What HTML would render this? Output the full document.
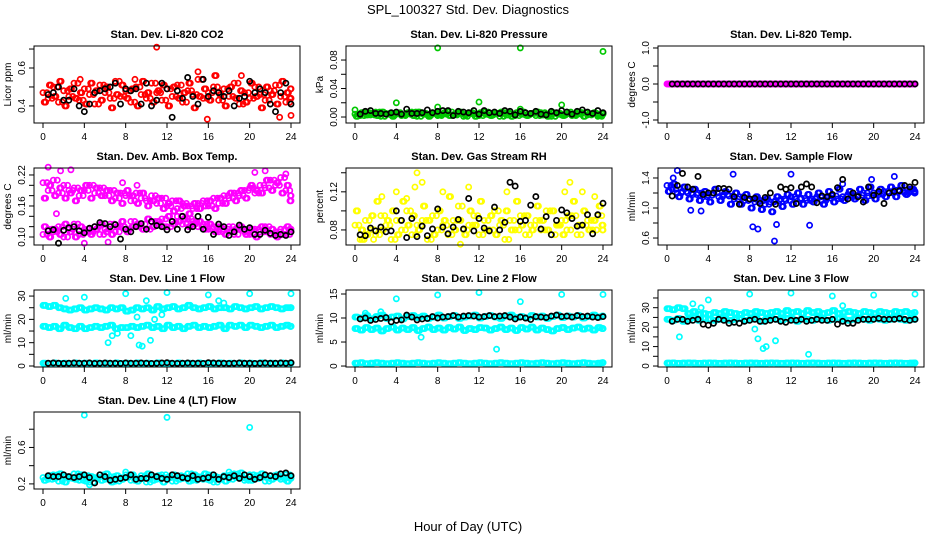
<!DOCTYPE html>
<html><head><meta charset="utf-8">
<style>
body{margin:0;background:#fff;}
svg{display:block;font-family:"Liberation Sans",Arial,sans-serif;}
.t{font-weight:bold;font-size:11px;text-anchor:middle;}
.tk{font-size:10px;}
</style></head>
<body>
<svg id="chart" width="936" height="540" viewBox="0 0 936 540">
<text x="468" y="14" font-size="13" text-anchor="middle">SPL_100327  Std. Dev. Diagnostics</text>
<text x="468" y="531" font-size="13" text-anchor="middle">Hour of Day (UTC)</text>
</svg>
<script>
const hoursA=[0,0.5,1,1.5,2,2.5,3,3.5,4,4.5,5,5.5,6,6.5,7,7.5,8,8.5,9,9.5,10,10.5,11,11.5,12,12.5,13,13.5,14,14.5,15,15.5,16,16.5,17,17.5,18,18.5,19,19.5,20,20.5,21,21.5,22,22.5,23,23.5,24];
const hoursB=[0.25,0.75,1.25,1.75,2.25,2.75,3.25,3.75,4.25,4.75,5.25,5.75,6.25,6.75,7.25,7.75,8.25,8.75,9.25,9.75,10.25,10.75,11.25,11.75,12.25,12.75,13.25,13.75,14.25,14.75,15.25,15.75,16.25,16.75,17.25,17.75,18.25,18.75,19.25,19.75,20.25,20.75,21.25,21.75,22.25,22.75,23.25,23.75,24];
const hoursC=[0.12,0.62,1.12,1.62,2.12,2.62,3.12,3.62,4.12,4.62,5.12,5.62,6.12,6.62,7.12,7.62,8.12,8.62,9.12,9.62,10.12,10.62,11.12,11.62,12.12,12.62,13.12,13.62,14.12,14.62,15.12,15.62,16.12,16.62,17.12,17.62,18.12,18.62,19.12,19.62,20.12,20.62,21.12,21.62,22.12,22.62,23.12,23.62,23.9];
const hoursD=[0.38,0.88,1.38,1.88,2.38,2.88,3.38,3.88,4.38,4.88,5.38,5.88,6.38,6.88,7.38,7.88,8.38,8.88,9.38,9.88,10.38,10.88,11.38,11.88,12.38,12.88,13.38,13.88,14.38,14.88,15.38,15.88,16.38,16.88,17.38,17.88,18.38,18.88,19.38,19.88,20.38,20.88,21.38,21.88,22.38,22.88,23.38,23.88,23.95];
const hoursK=[0.5,1,1.5,2,2.5,3,3.5,4,4.5,5,5.5,6,6.5,7,7.5,8,8.5,9,9.5,10,10.5,11,11.5,12,12.5,13,13.5,14,14.5,15,15.5,16,16.5,17,17.5,18,18.5,19,19.5,20,20.5,21,21.5,22,22.5,23,23.5,24];
const xTicks=[0,4,8,12,16,20,24];

// P1 CO2
const co2A=[0.47,0.44,0.50,0.42,0.48,0.45,0.52,0.43,0.49,0.46,0.41,0.51,0.47,0.44,0.53,0.45,0.48,0.42,0.50,0.46,0.44,0.52,0.47,0.43,0.49,0.45,0.51,0.42,0.48,0.46,0.54,0.44,0.47,0.50,0.43,0.49,0.45,0.52,0.41,0.47,0.44,0.50,0.46,0.43,0.48,0.51,0.45,0.42,0.49];
const co2B=[0.42,0.51,0.45,0.53,0.40,0.49,0.44,0.47,0.41,0.52,0.48,0.43,0.50,0.39,0.46,0.51,0.44,0.49,0.40,0.53,0.47,0.42,0.48,0.51,0.40,0.50,0.44,0.47,0.52,0.39,0.45,0.49,0.43,0.56,0.46,0.40,0.50,0.44,0.48,0.42,0.52,0.45,0.39,0.50,0.46,0.41,0.53,0.47,0.44];
const co2OutH=[11,15,15.9,19.2,22.9,24,3.6,8.9];
const co2OutV=[0.71,0.58,0.33,0.56,0.34,0.35,0.54,0.54];
const co2K=[0.46,0.47,0.50,0.43,0.43,0.49,0.40,0.37,0.41,0.47,0.48,0.49,0.50,0.52,0.41,0.49,0.48,0.49,0.41,0.52,0.40,0.43,0.52,0.49,0.34,0.48,0.44,0.55,0.45,0.41,0.54,0.45,0.48,0.47,0.45,0.48,0.40,0.44,0.45,0.53,0.47,0.49,0.47,0.41,0.37,0.47,0.52,0.41];
// P2 Pressure
const presA=[0.004,0.002,0.006,0.003,0.007,0.001,0.005,0.003,0.006,0.002,0.004,0.007,0.001,0.005,0.003,0.006,0.002,0.004,0.007,0.003,0.005,0.001,0.006,0.004,0.002,0.007,0.003,0.005,0.001,0.006,0.004,0.002,0.007,0.003,0.005,0.002,0.006,0.004,0.001,0.005,0.003,0.007,0.002,0.004,0.006,0.003,0.005,0.001,0.004];
const presB=[0.001,0.006,0.003,0.005,0.002,0.007,0.004,0.001,0.005,0.003,0.006,0.002,0.007,0.004,0.001,0.005,0.003,0.006,0.002,0.004,0.007,0.003,0.005,0.001,0.006,0.004,0.002,0.005,0.007,0.003,0.001,0.006,0.004,0.002,0.005,0.007,0.003,0.001,0.006,0.004,0.002,0.005,0.003,0.007,0.001,0.004,0.006,0.002,0.005];
const presOutH=[0,4,8,8,12,16,16,20,24];
const presOutV=[0.010,0.020,0.097,0.014,0.021,0.097,0.011,0.017,0.092];
const presK=[0.004,0.008,0.009,0.005,0.005,0.004,0.006,0.007,0.004,0.011,0.005,0.005,0.006,0.010,0.006,0.008,0.009,0.009,0.002,0.008,0.007,0.006,0.009,0.004,0.009,0.006,0.007,0.005,0.009,0.008,0.003,0.008,0.006,0.005,0.008,0.004,0.003,0.008,0.006,0.009,0.007,0.004,0.008,0.010,0.007,0.005,0.009,0.006];
// P3 Temp
const tempA=[0,0,0,0,0,0,0,0,0,0,0,0,0,0,0,0,0,0,0,0,0,0,0,0,0,0,0,0,0,0,0,0,0,0,0,0,0,0,0,0,0,0,0,0,0,0,0,0,0];
const tempB=[0,0,0,0,0,0,0,0,0,0,0,0,0,0,0,0,0,0,0,0,0,0,0,0,0,0,0,0,0,0,0,0,0,0,0,0,0,0,0,0,0,0,0,0,0,0,0,0,0];
const tempK=[0,0,0,0,0,0,0,0,0,0,0,0,0,0,0,0,0,0,0,0,0,0,0,0,0,0,0,0,0,0,0,0,0,0,0,0,0,0,0,0,0,0,0,0,0,0,0,0];
// P4 Amb box temp
const ambUA=[0.205,0.19,0.21,0.185,0.20,0.19,0.195,0.18,0.19,0.20,0.185,0.195,0.18,0.19,0.175,0.185,0.18,0.17,0.185,0.175,0.17,0.18,0.165,0.175,0.16,0.17,0.155,0.165,0.16,0.155,0.165,0.17,0.16,0.175,0.165,0.18,0.175,0.185,0.18,0.19,0.195,0.185,0.20,0.195,0.21,0.20,0.215,0.19,0.18];
const ambUB=[0.175,0.20,0.18,0.195,0.175,0.185,0.17,0.19,0.20,0.175,0.195,0.18,0.19,0.17,0.185,0.165,0.19,0.18,0.165,0.185,0.16,0.17,0.175,0.155,0.165,0.15,0.17,0.16,0.145,0.165,0.155,0.16,0.17,0.155,0.175,0.165,0.185,0.17,0.19,0.175,0.20,0.19,0.185,0.21,0.19,0.205,0.185,0.20,0.17];
const ambLA=[0.105,0.115,0.11,0.12,0.10,0.115,0.125,0.105,0.115,0.11,0.12,0.105,0.115,0.125,0.11,0.12,0.115,0.13,0.12,0.125,0.115,0.13,0.125,0.135,0.12,0.13,0.14,0.125,0.135,0.13,0.12,0.125,0.115,0.12,0.11,0.115,0.12,0.105,0.115,0.11,0.105,0.115,0.11,0.12,0.105,0.11,0.115,0.105,0.11];
const ambLB=[0.12,0.10,0.115,0.105,0.125,0.11,0.10,0.12,0.11,0.105,0.115,0.125,0.11,0.105,0.12,0.13,0.11,0.12,0.125,0.115,0.135,0.12,0.13,0.12,0.14,0.125,0.13,0.135,0.12,0.125,0.13,0.115,0.125,0.11,0.12,0.105,0.11,0.115,0.12,0.105,0.115,0.10,0.12,0.11,0.115,0.10,0.105,0.12,0.115];
const ambOutH=[0.5,1.7,2.7,0.4,1.3,7.7,9.1,20.5,21.5,23.5,6.3,4];
const ambOutV=[0.235,0.228,0.23,0.205,0.145,0.205,0.20,0.225,0.228,0.222,0.09,0.088];
const ambK=[0.112,0.114,0.088,0.113,0.118,0.12,0.112,0.108,0.117,0.12,0.128,0.126,0.12,0.124,0.096,0.115,0.11,0.12,0.126,0.115,0.13,0.122,0.12,0.114,0.13,0.115,0.14,0.114,0.12,0.14,0.115,0.138,0.105,0.125,0.12,0.103,0.11,0.123,0.115,0.118,0.105,0.105,0.113,0.107,0.103,0.105,0.103,0.11];
// P5 RH
const rhA=[0.085,0.07,0.09,0.08,0.075,0.095,0.085,0.07,0.09,0.08,0.1,0.075,0.085,0.09,0.07,0.095,0.08,0.085,0.075,0.09,0.105,0.08,0.085,0.095,0.075,0.09,0.08,0.1,0.085,0.07,0.09,0.08,0.095,0.075,0.085,0.09,0.08,0.1,0.075,0.085,0.09,0.08,0.095,0.075,0.085,0.09,0.08,0.095,0.08];
const rhB=[0.1,0.08,0.075,0.095,0.11,0.08,0.09,0.1,0.075,0.11,0.085,0.095,0.08,0.105,0.09,0.075,0.1,0.09,0.115,0.08,0.09,0.075,0.1,0.085,0.11,0.08,0.095,0.075,0.09,0.1,0.08,0.11,0.085,0.095,0.08,0.105,0.09,0.08,0.1,0.085,0.075,0.095,0.11,0.085,0.1,0.08,0.09,0.105,0.085];
const rhOutH=[6,6.5,5.8,10.2,11,4,8.5,20.3,20.8,2.6,1.8,14.7,22,0.7,23.2,5];
const rhOutV=[0.14,0.13,0.125,0.065,0.125,0.12,0.12,0.12,0.13,0.115,0.07,0.12,0.12,0.07,0.115,0.113];
const rhK=[0.075,0.074,0.082,0.079,0.083,0.078,0.079,0.1,0.09,0.072,0.092,0.073,0.084,0.074,0.081,0.102,0.083,0.076,0.083,0.091,0.081,0.113,0.079,0.092,0.082,0.079,0.104,0.08,0.088,0.13,0.126,0.089,0.09,0.106,0.115,0.081,0.094,0.075,0.09,0.101,0.098,0.092,0.084,0.085,0.096,0.076,0.096,0.108];
// P6 Sample flow
const sfA=[1.3,1.25,1.2,1.22,1.2,1.18,1.2,1.15,1.17,1.2,1.15,1.18,1.16,1.12,1.15,1.1,1.12,1.08,1.1,1.05,1.08,1.1,1.12,1.1,1.15,1.12,1.13,1.1,1.12,1.15,1.1,1.13,1.16,1.12,1.15,1.18,1.15,1.17,1.2,1.16,1.2,1.18,1.22,1.2,1.24,1.22,1.2,1.25,1.2];
const sfB=[1.22,1.32,1.15,1.28,1.12,1.25,1.1,1.22,1.08,1.25,1.1,1.22,1.05,1.2,1.05,1.18,1.0,1.15,0.98,1.12,0.95,1.15,1.02,1.18,1.05,1.2,1.05,1.18,1.08,1.2,1.05,1.22,1.08,1.25,1.1,1.22,1.12,1.25,1.1,1.28,1.12,1.25,1.15,1.28,1.15,1.3,1.18,1.25,1.22];
const sfOutH=[1,6.4,8.3,8.8,10.4,10.6,12,13.8,2.3,3.3,17,22,19.8,0.6];
const sfOutV=[1.5,1.45,0.75,0.72,0.56,0.78,1.45,0.77,0.97,0.96,1.32,1.42,1.38,1.4];
const sfK=[1.16,1.3,1.46,1.28,1.25,1.42,1.18,1.2,1.2,1.26,1.26,1.25,1.15,1.05,1.14,1.12,1.13,1.06,1.14,1.2,1.05,1.28,1.25,1.27,1.06,1.28,1.32,1.28,1.07,1.16,1.15,1.18,1.27,1.38,1.12,1.2,1.15,1.08,1.28,1.17,1.22,1.06,1.2,1.22,1.23,1.3,1.28,1.34];
// P7 Line 1
const l1U=[26,25.5,26,25,24.5,24,24.5,25,24,24.5,25,24.5,24,25,24.5,25,23.5,24,25,24.5,25,24,25.5,24.5,25,25.5,24.5,25,26,25,24.5,25,25.5,24.5,25,25,24.5,25.5,25,24.5,25,25.5,24.5,25,25.5,25,24.5,25,25];
const l1M=[17,16.5,17,16,17.5,16.5,16,17,16,16.5,17,16.5,17,17.5,16,16.5,16.5,17,16.5,17,17.5,16.5,17,16,17.5,16.5,17,16,17,17.5,16.5,17,16.5,17,17.5,16,17.5,17,17.5,16.5,17.5,17,16.5,17,17.5,16.5,17,17.5,17];
const l1L=[1.2,1,1.3,1.1,1.2,1,1.3,1.1,1.2,1,1.3,1.1,1.2,1,1.3,1.1,1.2,1,1.3,1.1,1.2,1,1.3,1.1,1.2,1,1.3,1.1,1.2,1,1.3,1.1,1.2,1,1.3,1.1,1.2,1,1.3,1.1,1.2,1,1.3,1.1,1.2,1,1.3,1.1,1.2];
const l1OutH=[2.2,4,8,12,16,20,24,6.3,6.7,7.2,9.3,9.6,10.4,10,9.1,8.5,17,17.5,10.8,11.5];
const l1OutV=[29,29.5,31,31.5,30.5,31,31,10,13,14,9,8.5,11,28,21,13,28,27,20,22];
const l1K=[1.2,1.3,1.2,1.1,1.2,1.3,1.2,1.2,1.3,1.1,1.2,1.3,1.2,1.2,1.1,1.3,1.2,1.2,1.3,1.2,1.1,1.2,1.3,1.4,1.2,1.1,1.2,1.3,1.2,1.2,1.1,1.4,1.3,1.2,1.2,1.1,1.2,1.3,1.2,1.2,1.1,1.2,1.3,1.2,1.2,1.3,1.2,1.4];
// P8 Line 2
const l2U=[10.2,10,10.5,9.8,10.3,10.6,9.9,10.2,10.4,9.8,10.3,10.5,10.1,10.4,9.9,10.2,10.6,10,10.3,10.5,9.9,10.2,10.4,10.6,10,10.3,10.5,10.2,9.9,10.4,10.6,10.1,10.3,10,10.5,10.2,10.4,9.9,10.3,10.6,10.1,10.4,10.2,10.5,10,10.3,10.6,10.2,10.4];
const l2M=[7.8,7.5,8,7.6,7.9,7.3,7.8,8.1,7.5,7.9,7.6,8,7.4,7.8,8.1,7.6,7.9,7.5,8,7.7,8.1,7.4,7.8,7.6,8,7.9,7.5,7.8,8.1,7.6,7.9,7.4,8,7.7,8.1,7.5,7.9,7.6,7.3,7.8,8,7.6,7.9,8.1,7.7,7.9,7.5,8,7.8];
const l2L=[0.6,0.7,0.5,0.6,0.7,0.6,0.5,0.6,0.7,0.6,0.5,0.6,0.7,0.6,0.5,0.6,0.7,0.6,0.5,0.6,0.7,0.6,0.5,0.6,0.7,0.6,0.5,0.6,0.7,0.6,0.5,0.6,0.7,0.6,0.5,0.6,0.7,0.6,0.5,0.6,0.7,0.6,0.5,0.6,0.7,0.6,0.5,0.6,0.7];
const l2OutH=[4,8,12,16,20,24,13.7,6.4,1,2.5];
const l2OutV=[14,14.8,15.3,13.4,14.9,14.9,3.5,6,11,11.3];
const l2K=[9.8,10,9.5,9.7,9.9,10.1,9.2,9.5,9.6,10.6,10.2,9.6,9.8,9.9,10.3,10,10.2,10.3,10.5,10.2,10.4,10.5,10.4,10.2,10.3,10.5,10.3,10.4,10.5,10.2,9.8,10.2,10,9.7,10.3,10.2,10.1,10.4,10.6,10.3,10.4,10.2,10.5,10.3,10.4,10.2,10.1,10.3];
// P9 Line 3
const l3U=[29.5,29,30,29.5,27,28,26.5,27,26.5,27.5,27,28,27.5,27,26.5,27.5,27,28,27.5,27,27.5,28,27,28.5,27.5,28,27,28.5,27.5,28,27,27.5,28.5,27,27.5,28,27.5,27,28,27.5,27,28,27.5,27,28,27.5,28,27,27.5];
const l3M=[24,23.5,24.5,23,24,25,23.5,24.5,24,23.5,24,24.5,23.5,24,24.5,23.5,24,24.5,23,24,24.5,24,23.5,24.5,24,23,24.5,24,23.5,24.5,24,23.5,24,24.5,24,23.5,24,24.5,24,23.5,24.5,24,23.5,24,24.5,24,23.5,24,24];
const l3L=[1.5,1.6,1.4,1.5,1.6,1.5,1.4,1.5,1.6,1.5,1.4,1.5,1.6,1.5,1.4,1.5,1.6,1.5,1.4,1.5,1.6,1.5,1.4,1.5,1.6,1.5,1.4,1.5,1.6,1.5,1.4,1.5,1.6,1.5,1.4,1.5,1.6,1.5,1.4,1.5,1.6,1.5,1.4,1.5,1.6,1.5,1.4,1.5,1.6];
const l3OutH=[8,12,16,20,24,1.2,9.3,9.6,10.5,13.7,8.5,8.8,2.5,4,17,3.3];
const l3OutV=[37,37.5,36,36.5,37,15,9,10,13,6,19,14,32,34,31,30];
const l3K=[23,24,24,23,23.5,24,21.5,21,22,24,23.5,22,22.5,22,23,23.5,24,23,23,23.5,24,23,22.5,23.5,23.5,24,23,23.5,24,23.5,23.5,24,21.5,23,22,22,23.5,24,24,24,24.5,24,24,24,24.5,24,23.5,24];
// P10 Line 4
const l4A=[0.27,0.25,0.3,0.23,0.28,0.26,0.31,0.24,0.29,0.22,0.27,0.3,0.25,0.28,0.23,0.27,0.3,0.24,0.26,0.29,0.22,0.28,0.25,0.3,0.27,0.23,0.29,0.26,0.31,0.24,0.28,0.25,0.3,0.22,0.27,0.29,0.25,0.31,0.27,0.24,0.3,0.26,0.28,0.23,0.29,0.27,0.25,0.3,0.28];
const l4B=[0.24,0.29,0.26,0.31,0.22,0.27,0.25,0.3,0.23,0.28,0.26,0.24,0.31,0.22,0.29,0.25,0.27,0.3,0.23,0.26,0.31,0.24,0.29,0.22,0.27,0.3,0.25,0.28,0.23,0.3,0.26,0.31,0.24,0.28,0.25,0.23,0.3,0.27,0.32,0.26,0.24,0.29,0.31,0.27,0.25,0.3,0.28,0.23,0.26];
const l4OutH=[4,12,20,4.5,18,8];
const l4OutV=[0.955,0.93,0.82,0.19,0.33,0.33];
const l4K=[0.29,0.28,0.28,0.3,0.28,0.27,0.28,0.3,0.27,0.21,0.3,0.28,0.24,0.25,0.26,0.27,0.3,0.25,0.26,0.26,0.3,0.28,0.26,0.25,0.3,0.29,0.27,0.26,0.29,0.25,0.26,0.27,0.3,0.25,0.28,0.27,0.29,0.26,0.3,0.28,0.25,0.27,0.3,0.29,0.28,0.31,0.32,0.29];

// tick values & labels
const co2Ticks=[0.4,0.5,0.6,0.7], co2Labels=["0.4","","0.6",""];
const presTicks=[0,0.02,0.04,0.06,0.08], presLabels=["0.00","","0.04","","0.08"];
const tempTicks=[-1,-0.5,0,0.5,1], tempLabels=["-1.0","","0.0","","1.0"];
const ambTicks=[0.10,0.12,0.14,0.16,0.18,0.20,0.22], ambLabels=["0.10","","","0.16","","","0.22"];
const rhTicks=[0.08,0.10,0.12,0.14], rhLabels=["0.08","","0.12",""];
const sfTicks=[0.6,0.8,1.0,1.2,1.4], sfLabels=["0.6","","1.0","","1.4"];
const l1Ticks=[0,5,10,15,20,25,30], l1Labels=["0","","10","","20","","30"];
const l2Ticks=[0,5,10,15], l2Labels=["0","5","10","15"];
const l3Ticks=[0,5,10,15,20,25,30,35], l3Labels=["0","","10","","20","","30",""];
const l4Ticks=[0.2,0.4,0.6,0.8], l4Labels=["0.2","","0.6",""];

const NS="http://www.w3.org/2000/svg";
const svg=document.getElementById('chart');
function mk(tag,attrs,parent){const e=document.createElementNS(NS,tag);for(const k in attrs)e.setAttribute(k,attrs[k]);(parent||svg).appendChild(e);return e;}

const panels=[
 {name:'co2',title:'Stan. Dev. Li-820 CO2',ylab:'Licor ppm',col:0,row:0,dom:[0.31,0.716],ticks:co2Ticks,labels:co2Labels,color:'#ff0000',
  series:[[hoursA,co2A],[hoursB,co2B],[hoursC,co2B],[hoursD,co2A],[co2OutH,co2OutV]],black:co2K},
 {name:'pressure',title:'Stan. Dev. Li-820 Pressure',ylab:'kPa',col:1,row:0,dom:[-0.0084,0.0997],ticks:presTicks,labels:presLabels,color:'#00c800',
  series:[[hoursA,presA],[hoursB,presB],[hoursC,presB],[hoursD,presA],[presOutH,presOutV]],black:presK},
 {name:'temp',title:'Stan. Dev. Li-820 Temp.',ylab:'degrees C',col:2,row:0,dom:[-1.083,1.055],ticks:tempTicks,labels:tempLabels,color:'#ff00ff',
  series:[[hoursA,tempA],[hoursB,tempB],[hoursC,tempA],[hoursD,tempB]],black:tempK},
 {name:'amb-box-temp',title:'Stan. Dev. Amb. Box Temp.',ylab:'degrees C',col:0,row:1,dom:[0.0845,0.2335],ticks:ambTicks,labels:ambLabels,color:'#ff00ff',
  series:[[hoursA,ambUA],[hoursB,ambUB],[hoursC,ambUB],[hoursD,ambUA],[hoursA,ambLA],[hoursB,ambLB],[hoursC,ambLB],[hoursD,ambLA],[ambOutH,ambOutV]],black:ambK},
 {name:'gas-rh',title:'Stan. Dev. Gas Stream RH',ylab:'percent',col:1,row:1,dom:[0.0642,0.145],ticks:rhTicks,labels:rhLabels,color:'#ffff00',
  series:[[hoursA,rhA],[hoursB,rhB],[hoursC,rhB],[hoursD,rhA],[rhOutH,rhOutV]],black:rhK},
 {name:'sample-flow',title:'Stan. Dev. Sample Flow',ylab:'ml/min',col:2,row:1,dom:[0.507,1.533],ticks:sfTicks,labels:sfLabels,color:'#0000ff',
  series:[[hoursA,sfA],[hoursB,sfB],[hoursC,sfB],[hoursD,sfA],[sfOutH,sfOutV]],black:sfK},
 {name:'line1-flow',title:'Stan. Dev. Line 1 Flow',ylab:'ml/min',col:0,row:2,dom:[-0.43,32.6],ticks:l1Ticks,labels:l1Labels,color:'#00ffff',
  series:[[hoursA,l1U],[hoursB,l1U],[hoursC,l1U],[hoursA,l1M],[hoursB,l1M],[hoursC,l1M],[hoursA,l1L],[hoursB,l1L],[hoursC,l1L],[l1OutH,l1OutV]],black:l1K},
 {name:'line2-flow',title:'Stan. Dev. Line 2 Flow',ylab:'ml/min',col:1,row:2,dom:[-0.2,15.83],ticks:l2Ticks,labels:l2Labels,color:'#00ffff',
  series:[[hoursA,l2U],[hoursB,l2U],[hoursC,l2U],[hoursA,l2M],[hoursB,l2M],[hoursC,l2M],[hoursA,l2L],[hoursB,l2L],[hoursC,l2L],[l2OutH,l2OutV]],black:l2K},
 {name:'line3-flow',title:'Stan. Dev. Line 3 Flow',ylab:'ml/min',col:2,row:2,dom:[-0.5,39.1],ticks:l3Ticks,labels:l3Labels,color:'#00ffff',
  series:[[hoursA,l3U],[hoursB,l3U],[hoursC,l3U],[hoursA,l3M],[hoursB,l3M],[hoursC,l3M],[hoursA,l3L],[hoursB,l3L],[hoursC,l3L],[l3OutH,l3OutV]],black:l3K},
 {name:'line4-flow',title:'Stan. Dev. Line 4 (LT) Flow',ylab:'ml/min',col:0,row:3,dom:[0.144,0.989],ticks:l4Ticks,labels:l4Labels,color:'#00ffff',
  series:[[hoursA,l4A],[hoursB,l4B],[hoursC,l4B],[hoursD,l4A],[l4OutH,l4OutV]],black:l4K}
];

panels.forEach(p=>{
  const x0=34+312*p.col, w=266, y0=46+122*p.row, h=77;
  const g=mk('g',{});
  
  
  const xs=v=>x0+9+v*248/24;
  const ys=v=>y0+h-(v-p.dom[0])/(p.dom[1]-p.dom[0])*h;
  const t=mk('text',{x:x0+w/2,y:y0-8,class:'t'},g);t.textContent=p.title;
  
  
  const xa=mk('g',{},g);
  
  
  mk('line',{x1:xs(xTicks[0]),x2:xs(xTicks[xTicks.length-1]),y1:y0+h,y2:y0+h,stroke:'#000'},xa);
  xTicks.forEach(v=>{mk('line',{x1:xs(v),x2:xs(v),y1:y0+h,y2:y0+h+5,stroke:'#000'},xa);
    const l=mk('text',{x:xs(v),y:y0+h+17,class:'tk','text-anchor':'middle'},xa);l.textContent=v;});
  const ya=mk('g',{},g);
  
  
  mk('line',{x1:x0,x2:x0,y1:ys(p.ticks[0]),y2:ys(p.ticks[p.ticks.length-1]),stroke:'#000'},ya);
  p.ticks.forEach((v,i)=>{mk('line',{x1:x0-5,x2:x0,y1:ys(v),y2:ys(v),stroke:'#000'},ya);
    if(p.labels[i]){const l=mk('text',{x:0,y:0,class:'tk','text-anchor':'middle',transform:`translate(${x0-9},${ys(v)}) rotate(-90)`},ya);l.textContent=p.labels[i];}});
  const yl=mk('text',{x:0,y:0,class:'tk','text-anchor':'middle',transform:`translate(${x0-23},${y0+h/2}) rotate(-90)`},g);
  yl.textContent=p.ylab;
  
  
  const pc=mk('g',{fill:'none',stroke:p.color,'stroke-width':1.7},g);
  
  
  p.series.forEach(([hs,vs])=>{const n=Math.min(hs.length,vs.length);
    for(let i=0;i<n;i++){const c=mk('circle',{cx:xs(hs[i]),cy:ys(vs[i]),r:2.6},pc);
      
      }});
  const pk=mk('g',{fill:'none',stroke:'#000','stroke-width':1.7},g);
  
  
  const n=Math.min(hoursK.length,p.black.length);
  for(let i=0;i<n;i++){const c=mk('circle',{cx:xs(hoursK[i]),cy:ys(p.black[i]),r:2.6},pk);
    
    }
  const fr=mk('rect',{x:x0,y:y0,width:w,height:h,fill:'none',stroke:'#000'},g);
  
  
});
</script>
</body></html>
